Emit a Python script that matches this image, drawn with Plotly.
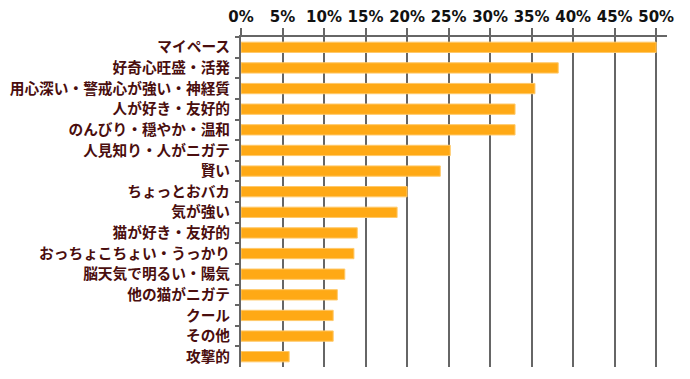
import plotly.graph_objects as go

categories = ["マイペース", "好奇心旺盛・活発", "用心深い・警戒心が強い・神経質", "人が好き・友好的",
              "のんびり・穏やか・温和", "人見知り・人がニガテ", "賢い", "ちょっとおバカ", "気が強い",
              "猫が好き・友好的", "おっちょこちょい・うっかり", "脳天気で明るい・陽気", "他の猫がニガテ",
              "クール", "その他", "攻撃的"]
values = [50.0, 38.2, 35.4, 33.0, 33.0, 25.2, 24.0, 20.0, 18.8, 14.0, 13.6, 12.5, 11.6, 11.1, 11.1, 5.8]
tick_vals = [0, 5, 10, 15, 20, 25, 30, 35, 40, 45, 50]
tick_text = [f"{v}%" for v in tick_vals]

fig = go.Figure(go.Bar(
    x=values, y=categories, orientation="h", width=0.5,
    marker=dict(color="#FFA915", line=dict(color="#FFC96A", width=1)),
))

# page body has an 8px default margin, so the figure is sized/offset accordingly
fig.update_layout(
    width=674, height=363,
    margin=dict(l=233, r=15, t=29, b=4),
    plot_bgcolor="white", paper_bgcolor="white",
    showlegend=False,
    xaxis=dict(side="top", range=[0, 51.3], tickvals=tick_vals, ticktext=tick_text,
               showgrid=True, gridcolor="#666666", gridwidth=2,
               showline=True, linecolor="#666666", linewidth=2,
               ticks="outside", ticklen=7, tickcolor="#666666", tickwidth=2,
               tickfont=dict(family="DejaVu Sans", size=15, color="#111111", weight="bold"),
               zeroline=False, automargin=False),
    yaxis=dict(autorange="reversed", showline=True, linecolor="#666666", linewidth=2,
               ticks="outside", ticklen=4, tickcolor="#666666", tickwidth=2,
               tickson="boundaries", ticklabelstandoff=6,
               tickfont=dict(family="Noto Sans CJK JP", size=14.7, color="#4A0E0E", weight="bold"),
               showgrid=False, automargin=False),
)

fig.write_html("out.html")
